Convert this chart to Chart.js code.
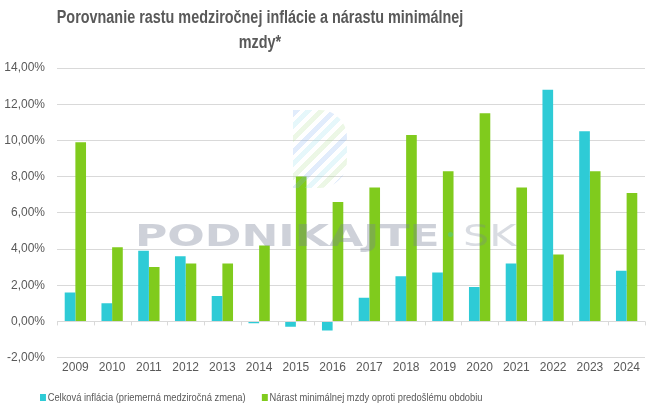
<!DOCTYPE html>
<html>
<head>
<meta charset="utf-8">
<script src="https://cdn.jsdelivr.net/npm/chart.js@4"></script>
<style>
  html, body { margin: 0; padding: 0; background: #fff; }
  #wrap { position: relative; width: 656px; height: 414px; overflow: hidden; }
  #chart { position: absolute; left: 0; top: 0; }
  #title {
    position: absolute; left: 0; top: 5px; width: 520px;
    text-align: center; color: #595959;
    font: bold 18px "Liberation Sans", sans-serif;
    line-height: 25px;
    transform: scaleX(0.8); transform-origin: 260px 0;
  }
  #legend {
    position: absolute; left: 40px; top: 391px; white-space: nowrap;
    font: 11px "Liberation Sans", sans-serif; color: #595959;
    transform: scaleX(0.85); transform-origin: 0 0;
  }
  #legend span.sw { display: inline-block; width: 7px; height: 7px; margin-right: 2px; vertical-align: 0px; }
  #legend span.item { margin-right: 19px; }
  #mark { position: absolute; left: 0; top: 0; pointer-events: none; }
  #mark b {
    position: absolute; left: 135px; top: 218px; white-space: nowrap;
    font: bold 30px "DejaVu Sans", sans-serif; color: rgba(120, 128, 150, 0.36);
    transform: scaleX(1.47); transform-origin: 0 0;
  }
  #mark i {
    position: absolute; left: 463px; top: 218px; white-space: nowrap;
    font: 30px "DejaVu Sans", sans-serif; font-style: normal; color: rgba(120, 128, 150, 0.28);
    transform: scaleX(1.38); transform-origin: 0 0;
  }
  #mark s {
    position: absolute; left: 448px; top: 232px; width: 5px; height: 5px; border-radius: 50%;
    background: rgba(60, 200, 210, 0.35);
  }
  #mark u {
    position: absolute; left: 293px; top: 110px; width: 54px; height: 78px;
    border-radius: 0 27px 27px 0;
    background: repeating-linear-gradient(135deg,
      rgba(120, 170, 240, 0.22) 0 5px, rgba(255, 255, 255, 0) 5px 9px,
      rgba(140, 220, 235, 0.22) 9px 14px, rgba(255, 255, 255, 0) 14px 18px,
      rgba(170, 220, 140, 0.22) 18px 23px, rgba(255, 255, 255, 0) 23px 27px);
  }
</style>
</head>
<body>
<div id="wrap">
  <canvas id="chart" width="656" height="414"></canvas>
  <div id="title">Porovnanie rastu medziročnej inflácie a nárastu minimálnej<br>mzdy*</div>
  <div id="mark"><u></u><b>PODNIKAJTE</b><s></s><i>SK</i></div>
  <div id="legend"></div>
</div>
<script>
// ─────────────────────────────────────────
// DATA
// ─────────────────────────────────────────
const YEARS = ['2009', '2010', '2011', '2012', '2013', '2014', '2015', '2016',
  '2017', '2018', '2019', '2020', '2021', '2022', '2023', '2024'];
const INFLATION = [1.6, 1.0, 3.9, 3.6, 1.4, -0.1, -0.3, -0.5,
  1.3, 2.5, 2.7, 1.9, 3.2, 12.8, 10.5, 2.8];
const MIN_WAGE = [9.9, 4.1, 3.0, 3.2, 3.2, 4.2, 8.0, 6.6,
  7.4, 10.3, 8.3, 11.5, 7.4, 3.7, 8.3, 7.1];
const SERIES_NAMES = [
  'Celková inflácia (priemerná medziročná zmena)',
  'Nárast minimálnej mzdy oproti predošlému obdobiu',
];

const COLORS = { teal: '#2ecbd6', green: '#80cb1d', grid: '#d9d9d9', text: '#595959' };
const FONT = "'Liberation Sans', sans-serif";

// small tick marks under the zero line, at category boundaries
const zeroTicks = {
  id: 'zeroTicks',
  afterDatasetsDraw(chart) {
    const { ctx, scales: { x, y } } = chart;
    const y0 = y.getPixelForValue(0);
    const step = (x.right - x.left) / YEARS.length;
    ctx.save();
    ctx.strokeStyle = COLORS.grid;
    ctx.lineWidth = 1;
    ctx.beginPath();
    for (let i = 0; i <= YEARS.length; i++) {
      const px = Math.round(x.left + i * step) + 0.5;
      ctx.moveTo(px, y0);
      ctx.lineTo(px, y0 + 4);
    }
    ctx.stroke();
    ctx.restore();
  },
};

new Chart(document.getElementById('chart'), {
  type: 'bar',
  data: {
    labels: YEARS,
    datasets: [
      { label: SERIES_NAMES[0], data: INFLATION, backgroundColor: COLORS.teal },
      { label: SERIES_NAMES[1], data: MIN_WAGE, backgroundColor: COLORS.green },
    ],
  },
  options: {
    responsive: false,
    animation: false,
    layout: { padding: { top: 68, right: 11, bottom: 36, left: 4 } },
    datasets: { bar: { categoryPercentage: 0.58, barPercentage: 1 } },
    plugins: { legend: { display: false }, tooltip: { enabled: false } },
    scales: {
      x: {
        grid: { display: false, drawTicks: false },
        border: { display: false },
        ticks: { color: COLORS.text, font: { family: FONT, size: 12 }, padding: 3, maxRotation: 0 },
      },
      y: {
        min: -2,
        max: 14,
        afterFit(scale) { scale.width = 53; },
        ticks: {
          stepSize: 2,
          color: COLORS.text,
          padding: 12,
          font: { family: FONT, size: 12 },
          callback: v => v.toFixed(2).replace('.', ',') + '%',
        },
        grid: { color: COLORS.grid, drawTicks: false },
        border: { display: false },
      },
    },
  },
  plugins: [zeroTicks],
});

// legend
const legend = document.getElementById('legend');
[COLORS.teal, COLORS.green].forEach((c, i) => {
  const item = document.createElement('span');
  item.className = 'item';
  item.innerHTML = `<span class="sw" style="background:${c}"></span>${SERIES_NAMES[i]}`;
  legend.appendChild(item);
});
</script>
</body>
</html>
